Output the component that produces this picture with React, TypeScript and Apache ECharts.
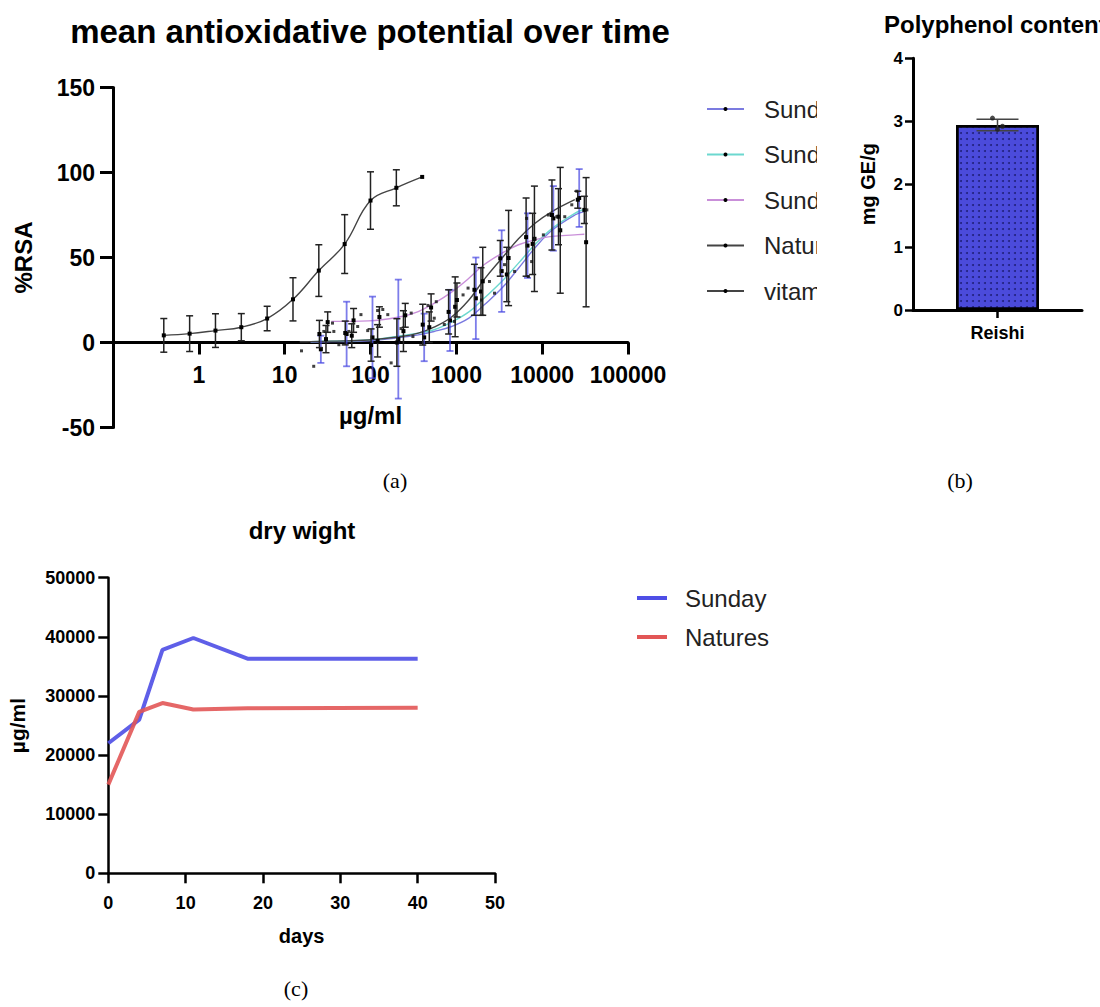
import React, { useEffect, useRef } from 'react';
import * as echarts from 'echarts';

const FONT = '"Liberation Sans", Arial, Helvetica, sans-serif';
const SERIF = '"Liberation Serif", "Times New Roman", serif';

// ---------- (a) mean antioxidative potential over time ----------
const titleA = 'mean antioxidative potential over time';
const namesA = ['Sunday day 7', 'Sunday day 11', 'Sunday day 18', 'Natures', 'vitamin C'];

const vitCConc = [0.390625, 0.78125, 1.5625, 3.125, 6.25, 12.5, 25, 50, 100, 200, 400];
const vitCMean = [4.2, 5.2, 7, 9, 14.1, 25.4, 42.3, 57.9, 83.5, 91, 97.4];
const vitCSd = [9.9, 10.5, 9.9, 8, 7.2, 12.7, 15.2, 17.3, 16.9, 10.6, 0];

const sun1Conc = [26.4, 52.7, 105.5, 211, 422, 844, 1688, 3375, 6750, 13500, 27000];
const sun1Mean = [-4, 5, 3, 2, 3, 13, 26, 42, 57, 73, 85];
const sun1Sd = [8, 19, 24, 35, 14, 18, 24, 24, 19, 19, 17];

const sun2Conc = [30.3, 60.5, 121, 242, 484, 969, 1938, 3875, 7750, 15500, 31000];
const sun2Mean = [2, 4, 1, 6.7, 9, 21, 30, 40, 58, 74, 78];
const sun2Sd = [8, 7, 9.5, 12, 9, 17.6, 14, 16, 18, 16.5, 8];

const sun3Conc = [31.7, 63.5, 127, 254, 508, 1016, 2031, 4063, 8125, 16250, 32500];
const sun3Mean = [12, 13, 15, 16, 20.6, 25, 36, 49.7, 61, 66, 59];
const sun3Sd = [6, 7, 6, 7, 8, 10, 20, 28, 31, 37, 38];

const natConc = [25.4, 50.8, 101.6, 203, 406, 813, 1625, 3250, 6500, 13000, 26000];
const natMean = [5, 5.6, -1.5, 0, 10.5, 18, 31, 49.5, 62, 75, 84];
const natSd = [8, 7, 9.5, 14, 12, 13, 15, 10.5, 23, 20.6, 5];

// fitted curves at these concentrations
const fitConc = [15, 20, 35, 95, 230, 360, 550, 880, 1400, 2100, 3400, 5300, 8200, 13000, 24000, 31000];
const fitSun1 = [null, 0.3, 0.5, 1, 3, 4.5, 6.5, 9.4, 14.3, 22, 32, 43.7, 55.5, 66, 75, 77];
const fitSun2 = [null, 0.5, 0.8, 1.5, 4, 5.5, 7.5, 12, 18, 26, 36, 46.7, 57.5, 67, 76, 78.4];
const fitSun3 = [null, null, 12.4, 12.7, 15.3, 18.2, 23, 29.6, 37.8, 45.7, 52.5, 57.5, 60.4, 62.4, 63.3, 63.7];
const fitNat = [0.4, 0.5, 0.8, 1.5, 3.5, 5.5, 9, 15, 25, 37, 49.6, 61, 70, 77, 84, null];

// individual replicate readings
const repConc = [15.7, 21.8, 28.6, 36.1, 37.4, 42.8, 56, 77.4, 70.9, 92.8, 121, 159, 139, 174, 227, 298, 312, 467, 553, 584, 724, 948, 1198, 1370, 1961, 2432, 2782, 3642, 4770, 6896, 7539, 6586, 8173, 10330, 11820, 14780, 18330, 22130, 25320, 33150, 16020];
const repVal = [-4.9, -14, 6.5, 11.4, 6.5, -1.3, 6.5, 16.4, 9.4, 7, 18.8, 16.4, 19.4, -12, 8.2, 17.3, 3.5, 21.8, 14.3, 24, 10.6, 12.4, 28, 32, 25, 35.9, 29, 45.8, 41.8, 38.8, 47.6, 73, 61, 63.3, 75, 74, 74, 81, 89, 78, 66];

// ---------- (b) Polyphenol content ----------
const titleB = 'Polyphenol content';
const catsB = ['Reishi'];
const polyMean = [2.94];
const polySd = [0.09];
const polyReps = [3.05, 2.87, 2.92];

// ---------- (c) dry wight ----------
const titleC = 'dry wight';
const days = [0, 4, 7, 11, 18, 40];
const drySunday = [22000, 26000, 37800, 39800, 36300, 36300];
const dryNatures = [15000, 27300, 28800, 27700, 27900, 28000];
const namesC = ['Sunday Natural', 'Natures Answer'];

function errRenderer(color: string, capHalf: number, lw: number, dot: number) {
  return (params: any, api: any) => {
    const x = api.value(0);
    const m = api.value(1);
    const s = api.value(2);
    const c = api.coord([x, m]);
    const children: any[] = [];
    if (s > 0) {
      const t = api.coord([x, m + s]);
      const b = api.coord([x, m - s]);
      const st = { stroke: color, lineWidth: lw };
      children.push({ type: 'line', shape: { x1: c[0], y1: t[1], x2: c[0], y2: b[1] }, style: st });
      children.push({ type: 'line', shape: { x1: c[0] - capHalf, y1: t[1], x2: c[0] + capHalf, y2: t[1] }, style: st });
      children.push({ type: 'line', shape: { x1: c[0] - capHalf, y1: b[1], x2: c[0] + capHalf, y2: b[1] }, style: st });
    }
    if (dot > 0) {
      children.push({ type: 'rect', shape: { x: c[0] - dot / 2, y: c[1] - dot / 2, width: dot, height: dot }, style: { fill: '#000' } });
    }
    return { type: 'group', children };
  };
}

const zip3 = (a: number[], b: number[], c: number[]) => a.map((v, i) => [v, b[i], c[i]]);
const fitData = (vals: (number | null)[]) =>
  fitConc.map((c, i) => [c, vals[i]]).filter((p) => p[1] !== null);

export default function App() {
  const ref = useRef<HTMLDivElement>(null);
  useEffect(() => {
    if (!ref.current) return;
    const chart = echarts.init(ref.current, undefined, { renderer: 'svg' });
    const axisLab = (size: number, margin: number) => ({
      color: '#000', fontFamily: FONT, fontWeight: 'bold', fontSize: size, margin,
    });
    const axLine = (w: number) => ({ show: true, lineStyle: { color: '#000', width: w } });

    const colA = ['#7b7be0', '#6cd8cf', '#c98fd9', '#444', '#444'];
    const errCol = ['rgba(70,70,225,0.7)', '#222', '#222', '#222', '#222'];
    const fits = [fitSun1, fitSun2, fitSun3, fitNat];
    const meansA = [
      zip3(sun1Conc, sun1Mean, sun1Sd),
      zip3(sun2Conc, sun2Mean, sun2Sd),
      zip3(sun3Conc, sun3Mean, sun3Sd),
      zip3(natConc, natMean, natSd),
      zip3(vitCConc, vitCMean, vitCSd),
    ];

    const series: any[] = [];
    namesA.forEach((name, i) => {
      const data = i < 4 ? fitData(fits[i]) : vitCConc.map((c, k) => [c, vitCMean[k]]);
      series.push({
        type: 'line', name, xAxisIndex: 0, yAxisIndex: 0, data, smooth: 0.4,
        symbol: 'circle', symbolSize: 4, showSymbol: false, z: 2,
        itemStyle: { color: '#000' },
        lineStyle: { color: colA[i], width: 1.4 },
      });
    });
    namesA.forEach((name, i) => {
      series.push({
        type: 'custom', name, xAxisIndex: 0, yAxisIndex: 0, z: 3,
        renderItem: errRenderer(errCol[i], 3.5, i === 0 ? 1.8 : 1.5, 4),
        data: meansA[i], encode: { x: 0, y: 1 },
      });
    });
    series.push({
      type: 'scatter', name: 'replicates', xAxisIndex: 0, yAxisIndex: 0, z: 4,
      symbol: 'rect', symbolSize: 3, itemStyle: { color: '#111' },
      data: repConc.map((c, i) => [c, repVal[i]]),
    });

    // (b)
    series.push({
      type: 'bar', name: titleB, xAxisIndex: 1, yAxisIndex: 1, barWidth: 83,
      data: polyMean,
      itemStyle: {
        color: '#4b4bdb', borderColor: '#000', borderWidth: 2.5,
        decal: { symbol: 'circle', symbolSize: 1, color: 'rgba(0,0,50,0.55)', dashArrayX: [1.6, 3.4], dashArrayY: [1.6, 3.4] },
      },
    });
    series.push({
      type: 'custom', name: 'polyErr', xAxisIndex: 1, yAxisIndex: 1, z: 5,
      renderItem: errRenderer('#444', 21, 1.5, 0),
      data: polyMean.map((m, i) => [i, m, polySd[i]]), encode: { x: 0, y: 1 },
    });
    series.push({
      type: 'scatter', name: 'polyReps', xAxisIndex: 1, yAxisIndex: 1, z: 6,
      symbol: 'circle', symbolSize: 5, itemStyle: { color: '#222' },
      data: polyReps.map((v, i) => ({ value: [0, v], symbolOffset: [(i - 1) * 5, 0] })),
    });

    // (c)
    const colC = ['#4e4ee6', '#e25656'];
    [drySunday, dryNatures].forEach((vals, i) => {
      series.push({
        type: 'line', name: namesC[i], xAxisIndex: 2, yAxisIndex: 2,
        data: days.map((d, k) => [d, vals[k]]), symbol: 'none',
        itemStyle: { color: colC[i] },
        lineStyle: { color: colC[i], width: 4, opacity: 0.9 },
      });
    });

    const plain = (v: number) => String(v);

    const option: any = {
      animation: false,
      backgroundColor: '#fff',
      title: [
        { text: titleA, left: 370, top: 31, textAlign: 'center', textVerticalAlign: 'middle', padding: 0,
          textStyle: { fontFamily: FONT, fontWeight: 'bold', fontSize: 33, color: '#000' } },
        { text: titleB, left: 884, top: 24, textAlign: 'left', textVerticalAlign: 'middle', padding: 0,
          textStyle: { fontFamily: FONT, fontWeight: 'bold', fontSize: 24, color: '#000' } },
        { text: titleC, left: 302, top: 530, textAlign: 'center', textVerticalAlign: 'middle', padding: 0,
          textStyle: { fontFamily: FONT, fontWeight: 'bold', fontSize: 24, color: '#000' } },
      ],
      legend: [
        {
          data: namesA, orient: 'vertical', left: 706, top: 94, padding: 0, z: 4,
          itemWidth: 37, itemHeight: 5, itemGap: 15.5, selectedMode: false,
          textStyle: { fontFamily: FONT, fontSize: 24, color: '#222', lineHeight: 30,
            width: 80, overflow: 'truncate', ellipsis: '', padding: [0, 0, 0, 15] },
        },
        {
          data: namesC, orient: 'vertical', left: 637, top: 584, padding: 0, icon: 'rect',
          itemWidth: 30, itemHeight: 4, itemGap: 11, selectedMode: false,
          textStyle: { fontFamily: FONT, fontSize: 24, color: '#222', lineHeight: 28,
            width: 91, overflow: 'truncate', ellipsis: '', padding: [0, 0, 0, 13] },
        },
      ],
      grid: [
        { left: 113, top: 87.5, width: 515, height: 340 },
        { left: 913, top: 58.3, width: 169, height: 251.7 },
        { left: 108.3, top: 577.7, width: 386.7, height: 295.6 },
      ],
      xAxis: [
        {
          type: 'log', logBase: 10, gridIndex: 0, min: 0.1, max: 100000,
          name: 'µg/ml', nameLocation: 'middle', nameGap: -24,
          nameTextStyle: { fontFamily: FONT, fontWeight: 'bold', fontSize: 24, color: '#000' },
          axisLine: { ...axLine(3), onZero: true },
          axisTick: { show: true, length: 12, lineStyle: { width: 3, color: '#000' } },
          minorTick: { show: false }, splitLine: { show: false },
          axisLabel: { ...axisLab(23, -64), formatter: (v: number) => (v < 0.5 ? '' : String(Math.round(v))) },
        },
        {
          type: 'category', gridIndex: 1, data: catsB,
          axisLine: axLine(3),
          axisTick: { show: true, alignWithLabel: true, length: 8, lineStyle: { width: 2.5, color: '#000' } },
          axisLabel: axisLab(18, 14),
        },
        {
          type: 'value', gridIndex: 2, min: 0, max: 50, interval: 10,
          name: 'days', nameLocation: 'middle', nameGap: 53,
          nameTextStyle: { fontFamily: FONT, fontWeight: 'bold', fontSize: 20, color: '#000' },
          axisLine: axLine(2.5),
          axisTick: { show: true, length: 10, lineStyle: { width: 2.5, color: '#000' } },
          splitLine: { show: false },
          axisLabel: { ...axisLab(18, 21), formatter: plain },
        },
      ],
      yAxis: [
        {
          type: 'value', gridIndex: 0, min: -50, max: 150, interval: 50,
          name: '%RSA', nameLocation: 'middle', nameGap: 78,
          nameTextStyle: { fontFamily: FONT, fontWeight: 'bold', fontSize: 24, color: '#000' },
          axisLine: axLine(3),
          axisTick: { show: true, length: 13, lineStyle: { width: 3, color: '#000' } },
          splitLine: { show: false },
          axisLabel: { ...axisLab(23, 18), formatter: plain },
        },
        {
          type: 'value', gridIndex: 1, min: 0, max: 4, interval: 1,
          name: 'mg GE/g', nameLocation: 'middle', nameGap: 35,
          nameTextStyle: { fontFamily: FONT, fontWeight: 'bold', fontSize: 20, color: '#000' },
          axisLine: axLine(3),
          axisTick: { show: true, length: 8, lineStyle: { width: 2.5, color: '#000' } },
          splitLine: { show: false },
          axisLabel: axisLab(17, 10),
        },
        {
          type: 'value', gridIndex: 2, min: 0, max: 50000, interval: 10000,
          name: 'µg/ml', nameLocation: 'middle', nameGap: 80,
          nameTextStyle: { fontFamily: FONT, fontWeight: 'bold', fontSize: 21, color: '#000' },
          axisLine: axLine(2.5),
          axisTick: { show: true, length: 10, lineStyle: { width: 2.5, color: '#000' } },
          splitLine: { show: false },
          axisLabel: { ...axisLab(18, 13), formatter: plain },
        },
      ],
      graphic: [
        // the legend of (a) is cropped at the right in the reference
        { type: 'rect', z: 100, shape: { x: 817, y: 90, width: 38, height: 220 }, style: { fill: '#fff' } },
        { type: 'text', x: 395, y: 480, style: { text: '(a)', font: `22px ${SERIF}`, fill: '#000', textAlign: 'center', textVerticalAlign: 'middle' } },
        { type: 'text', x: 960, y: 480, style: { text: '(b)', font: `22px ${SERIF}`, fill: '#000', textAlign: 'center', textVerticalAlign: 'middle' } },
        { type: 'text', x: 296, y: 988, style: { text: '(c)', font: `22px ${SERIF}`, fill: '#000', textAlign: 'center', textVerticalAlign: 'middle' } },
      ],
      series,
    };
    chart.setOption(option);
    return () => chart.dispose();
  }, []);
  return (
    <div
      ref={ref}
      style={{ position: 'fixed', left: 0, top: 0, width: 1100, height: 1007, background: '#fff' }}
    />
  );
}
